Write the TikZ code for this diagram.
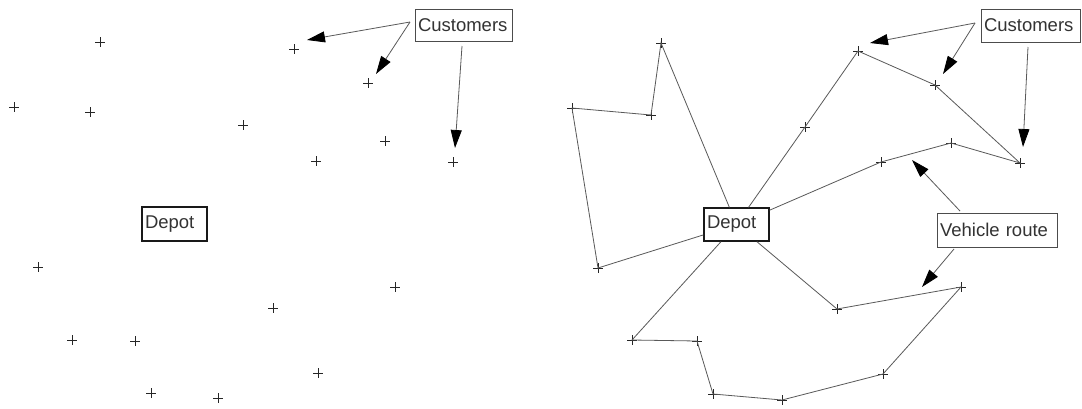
\documentclass[tikz,border=0pt]{standalone}
\usepackage{fontspec}
\setmainfont{Liberation Sans}
\usetikzlibrary{arrows.meta}
\begin{document}
\begin{tikzpicture}[x=1pt,y=-1pt,
  cust/.style={draw=none, inner sep=0pt, minimum size=10pt,
    path picture={\draw[black!85,line width=0.9pt]
      (path picture bounding box.north) -- (path picture bounding box.south)
      (path picture bounding box.west) -- (path picture bounding box.east);}},
  tag/.style={draw=black!70, line width=0.9pt, inner xsep=3pt, inner ysep=0pt,
    align=left, font=\fontsize{18.5}{20}\selectfont, text=black!80},
  depotbox/.style={tag, draw=black!90, line width=1.3pt},
  route/.style={draw=black!65, line width=0.8pt},
  pointer/.style={draw=black!65, line width=0.8pt,
    -{Triangle[length=18pt,width=11pt,color=black]}}
]
\fill[white] (0,0) rectangle (1082,408);
\useasboundingbox (0,0) rectangle (1082,408);

% ---------- left: customers and depot only ----------
\node[tag, text width=91pt, minimum height=32pt] (lcus) at (463.5,25) {Customers};
\node[depotbox, text width=59pt, minimum height=34pt] (ldep) at (174.5,224) {Depot};

\foreach \n/\x/\y in {l1/100/42, l2/294/49, l3/368/83, l4/14/107, l5/90/112,
    l6/243/125, l7/385/141, l8/316/161, l9/453/162, l10/38/267, l11/395/287,
    l12/273/308, l13/72/340, l14/135/341, l15/318/373, l16/151/393, l17/218/398}
  \node[cust] (\n) at (\x,\y) {};

\coordinate (la) at (410,22);
\coordinate (lb) at (462,46);
\coordinate (lt1) at (307,40);
\coordinate (lt2) at (376,74);
\coordinate (lt3) at (455,148);
\draw[pointer] (la) -- (lt1);
\draw[pointer] (la) -- (lt2);
\draw[pointer] (lb) -- (lt3);

% ---------- right: the same problem with vehicle routes ----------
\node[tag, text width=93pt, minimum height=33pt] (rcus) at (1030.5,25.5) {Customers};
\node[depotbox, text width=59pt, minimum height=33pt] (rdep) at (736.5,224.5) {Depot};
\node[tag, text width=114pt, minimum height=34pt] (veh) at (997,230) {Vehicle route};

\foreach \n/\x/\y in {a/661/43, b/651/115, c/572/108, d/598/268,
    e/858/51, f/935/85, g/1020/163, h/951/143, i/881/162, j/805/127,
    k/632/340, l/697/341, m/713/394, n/782/400, o/883/374, p/961/287, q/837/309}
  \node[cust] (\n) at (\x,\y) {};

\draw[route] (rdep) -- (a.center) -- (b.center) -- (c.center) -- (d.center) -- (rdep);
\draw[route] (rdep) -- (j.center) -- (e.center) -- (f.center) -- (g.center)
  -- (h.center) -- (i.center) -- (rdep);
\draw[route] (rdep) -- (k.center) -- (l.center) -- (m.center) -- (n.center)
  -- (o.center) -- (p.center) -- (q.center) -- (rdep);

\coordinate (ra) at (975,23);
\coordinate (rb) at (1028,47);
\coordinate (rt1) at (870,43);
\coordinate (rt2) at (943,74);
\coordinate (rt3) at (1023,147);
\draw[pointer] (ra) -- (rt1);
\draw[pointer] (ra) -- (rt2);
\draw[pointer] (rb) -- (rt3);

\coordinate (va) at (960,211);
\coordinate (vb) at (954,249);
\coordinate (vt1) at (912,160);
\coordinate (vt2) at (922,287);
\draw[pointer] (va) -- (vt1);
\draw[pointer] (vb) -- (vt2);
\end{tikzpicture}
\end{document}
